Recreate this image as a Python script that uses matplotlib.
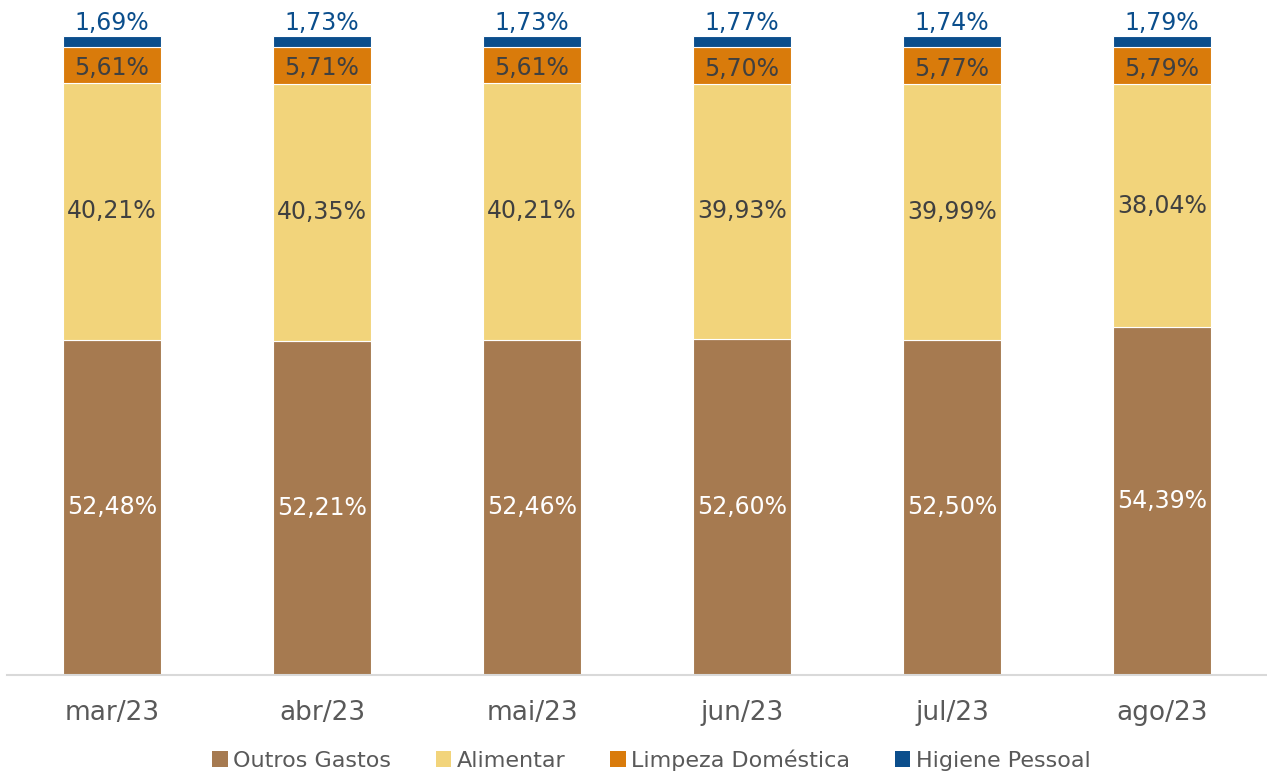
import matplotlib
matplotlib.use("Agg")
import matplotlib.pyplot as plt
import numpy as np

plt.rcParams['font.family'] = ['DejaVu Sans']

categories = ["mar/23", "abr/23", "mai/23", "jun/23", "jul/23", "ago/23"]
series_names = ["Outros Gastos", "Alimentar", "Limpeza Doméstica", "Higiene Pessoal"]
outros = [52.48, 52.21, 52.46, 52.60, 52.50, 54.39]
alimentar = [40.21, 40.35, 40.21, 39.93, 39.99, 38.04]
limpeza = [5.61, 5.71, 5.61, 5.70, 5.77, 5.79]
higiene = [1.69, 1.73, 1.73, 1.77, 1.74, 1.79]
colors = ["#A67A50", "#F2D47B", "#D97B0B", "#0B4E8C"]

def fmt(v):
    return f"{v:.2f}".replace(".", ",") + "%"

fig = plt.figure(figsize=(12.67, 7.73), dpi=100)
ax = fig.add_axes([7/1267, 1-675/773, 1260/1267, (675-36)/773])

x = np.arange(len(categories))
data = [outros, alimentar, limpeza, higiene]
bottom = np.zeros(len(categories))
for vals, c, name in zip(data, colors, series_names):
    ax.bar(x, vals, bottom=bottom, width=0.47, color=c, edgecolor="white",
           linewidth=0.8, label=name)
    bottom = bottom + np.array(vals)

for i in range(len(categories)):
    o, a, l, h = outros[i], alimentar[i], limpeza[i], higiene[i]
    ax.text(x[i], o/2, fmt(o), ha="center", va="center", color="white", fontsize=17)
    ax.text(x[i], o + a/2, fmt(a), ha="center", va="center", color="#404040", fontsize=17)
    ax.text(x[i], o + a + l/2 - 0.5, fmt(l), ha="center", va="center", color="#404040", fontsize=17)
    ax.text(x[i], o + a + l + h + 0.2, fmt(h), ha="center", va="bottom", color="#0B4E8C", fontsize=17)

ax.set_xlim(-0.5, 5.5)
ax.set_ylim(0, 100)
ax.set_yticks([])
ax.set_xticks(x)
ax.set_xticklabels(categories, fontsize=19, color="#595959")
ax.tick_params(axis="x", length=0, pad=18)
for s in ["top", "right", "left"]:
    ax.spines[s].set_visible(False)
ax.spines["bottom"].set_color("#D9D9D9")
ax.spines["bottom"].set_linewidth(1.5)

leg = fig.legend(loc="center", bbox_to_anchor=(0.514, 1-760/773), ncol=4, frameon=False,
                 fontsize=16, handlelength=0.7, handleheight=0.7, handletextpad=0.25,
                 columnspacing=2.0, labelcolor="#595959")
for h in leg.legend_handles:
    h.set_edgecolor("none")

fig.savefig("out.png", dpi=100)
